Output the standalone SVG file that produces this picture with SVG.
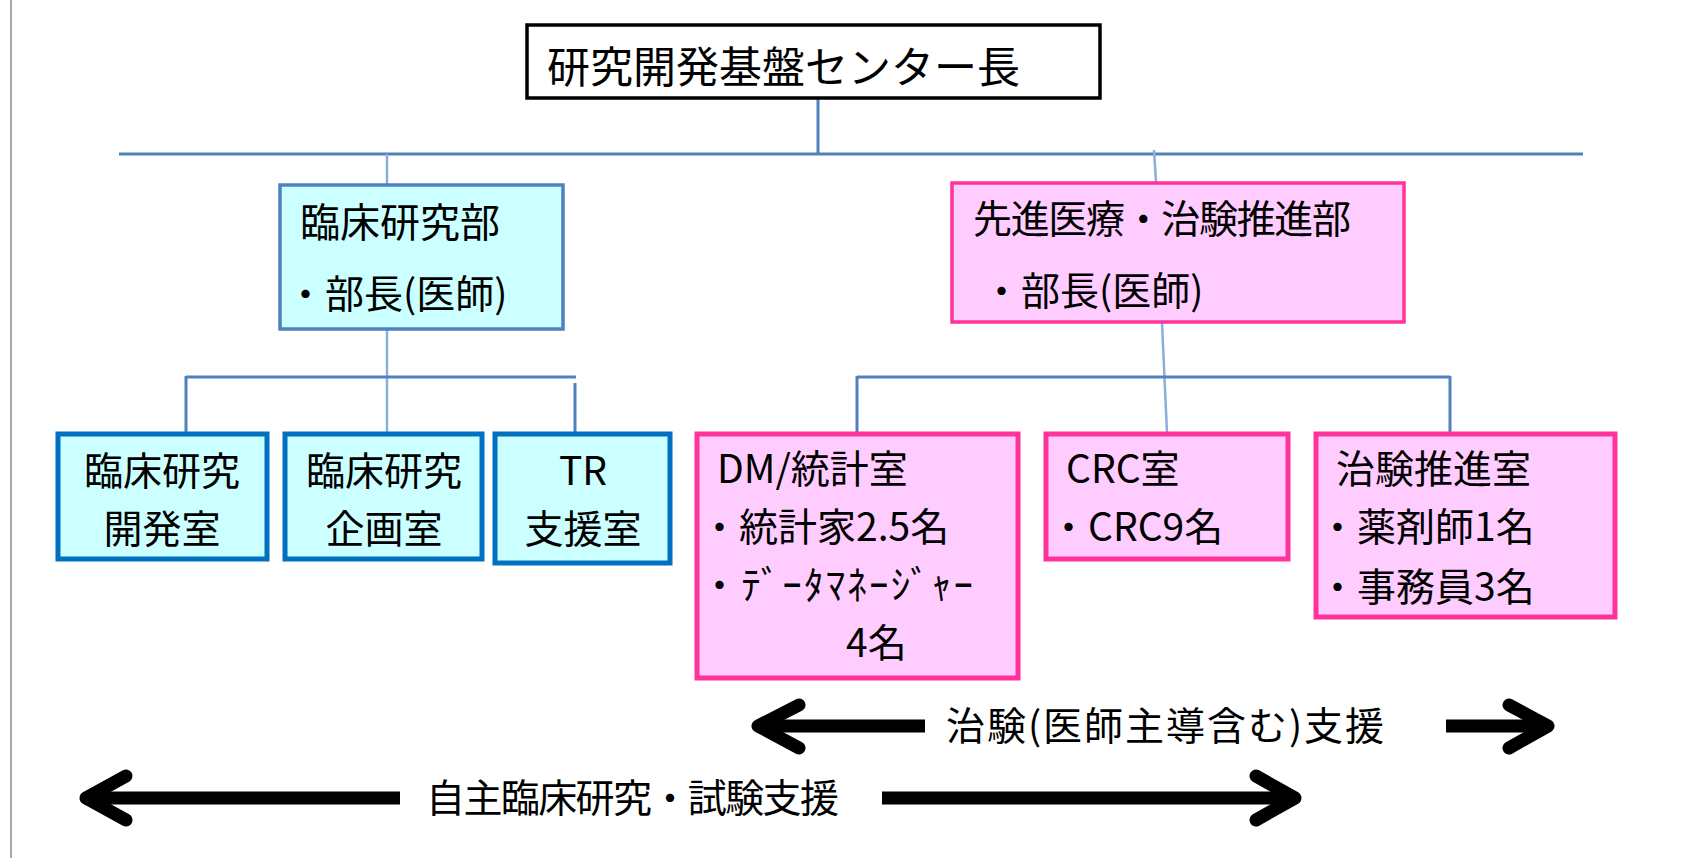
<svg xmlns="http://www.w3.org/2000/svg" width="1690" height="858" viewBox="0 0 1690 858">
<style>
text{font-family:"Noto Sans CJK JP","Liberation Sans",sans-serif;fill:#000}
.t{font-size:39px}
.c{text-anchor:middle}
.cyanA{fill:#CCFFFF;stroke:#4F81BD;stroke-width:3.5}
.cyanB{fill:#CCFFFF;stroke:#0070C0;stroke-width:5}
.pinkA{fill:#FFCCFF;stroke:#FF3399;stroke-width:3.5}
.pinkB{fill:#FFCCFF;stroke:#FF3399;stroke-width:5}
.ln{stroke:#4F81BD;stroke-width:3;fill:none}
.lt{stroke:#8EAEDA;stroke-width:2.5;fill:none}
.ar{stroke:#000;stroke-width:13;fill:none}
.hd{stroke:#000;stroke-width:13;fill:none;stroke-linecap:round;stroke-linejoin:round}
</style>
<line x1="11" y1="0" x2="11" y2="858" stroke="#A6A6A6" stroke-width="2"/>
<g id="connectors">
<line class="ln" x1="818" y1="99" x2="818" y2="154"/>
<line class="ln" x1="119" y1="154" x2="1583" y2="154"/>
<line class="lt" x1="387" y1="154" x2="387" y2="184"/>
<line class="lt" x1="1154" y1="150" x2="1156" y2="182"/>
<line class="lt" x1="387" y1="330" x2="387" y2="433"/>
<line class="ln" x1="186" y1="377" x2="576" y2="377"/>
<line class="ln" x1="186" y1="376" x2="186" y2="433"/>
<line class="ln" x1="575" y1="383" x2="575" y2="440"/>
<line class="lt" x1="1162" y1="323" x2="1167" y2="433"/>
<line class="ln" x1="857" y1="377" x2="1450" y2="377"/>
<line class="ln" x1="857" y1="376" x2="857" y2="433"/>
<line class="ln" x1="1450" y1="376" x2="1450" y2="433"/>
</g>
<g id="head">
<rect x="527" y="25" width="573" height="73" fill="#FFFFFF" stroke="#000" stroke-width="3.5"/>
<text x="547" y="83" font-size="43">研究開発基盤センター長</text>
</g>
<g id="dept-clinical">
<rect class="cyanA" x="280" y="185" width="283" height="144"/>
<text x="300" y="237" style="font-size:40px">臨床研究部</text>
<text class="t" x="286" y="308">・部長(医師)</text>
</g>
<g id="dept-advanced">
<rect class="pinkA" x="952" y="183" width="452" height="139"/>
<text class="t" x="973" y="233" textLength="378" lengthAdjust="spacing">先進医療・治験推進部</text>
<text class="t" x="982" y="305">・部長(医師)</text>
</g>
<g id="room-dev">
<rect class="cyanB" x="58" y="434" width="209" height="125"/>
<text class="t c" x="162" y="485">臨床研究</text>
<text class="t c" x="162" y="543">開発室</text>
</g>
<g id="room-plan">
<rect class="cyanB" x="285" y="434" width="197" height="125"/>
<text class="t c" x="384" y="485">臨床研究</text>
<text class="t c" x="384" y="543">企画室</text>
</g>
<g id="room-tr">
<rect class="cyanB" x="495" y="434" width="175" height="129"/>
<text class="t c" x="583" y="485">TR</text>
<text class="t c" x="583" y="543">支援室</text>
</g>
<g id="room-dm">
<rect class="pinkB" x="697" y="434" width="321" height="244"/>
<text class="t" x="717" y="483">DM/統計室</text>
<text class="t" x="700" y="541">・統計家2.5名</text>
<text class="t" x="700" y="599" textLength="273" lengthAdjust="spacing">・ﾃﾞｰﾀﾏﾈｰｼﾞｬｰ</text>
<text class="t" x="846" y="657">4名</text>
</g>
<g id="room-crc">
<rect class="pinkB" x="1046" y="434" width="242" height="125"/>
<text class="t" x="1066" y="483">CRC室</text>
<text class="t" x="1049" y="541">・CRC9名</text>
</g>
<g id="room-trial">
<rect class="pinkB" x="1316" y="434" width="299" height="183"/>
<text class="t" x="1336" y="483">治験推進室</text>
<text class="t" x="1318" y="541">・薬剤師1名</text>
<text class="t" x="1318" y="601">・事務員3名</text>
</g>
<g id="arrow-trial">
<line class="ar" x1="760" y1="726" x2="925" y2="726"/>
<polyline class="hd" points="799,705 758,726 799,748"/>
<line class="ar" x1="1446" y1="726" x2="1545" y2="726"/>
<polyline class="hd" points="1509,705 1548,726 1509,748"/>
<text class="t" x="946" y="740" textLength="438" lengthAdjust="spacing">治験(医師主導含む)支援</text>
</g>
<g id="arrow-self">
<line class="ar" x1="88" y1="798" x2="400" y2="798"/>
<polyline class="hd" points="126,776 86,798 126,820"/>
<line class="ar" x1="882" y1="798" x2="1290" y2="798"/>
<polyline class="hd" points="1256,776 1295,798 1256,820"/>
<text class="t" x="426" y="812" textLength="413" lengthAdjust="spacing">自主臨床研究・試験支援</text>
</g>
</svg>
